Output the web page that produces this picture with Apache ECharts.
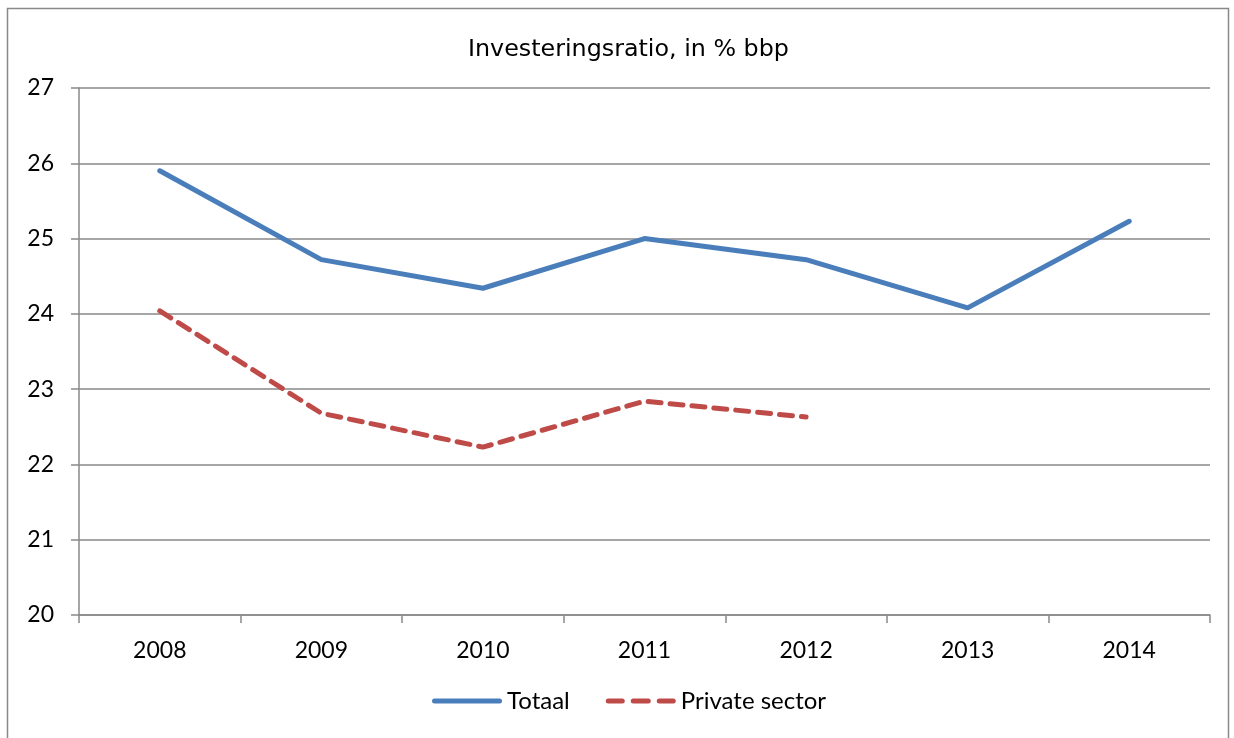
<!DOCTYPE html>
<html>
<head>
<meta charset="utf-8">
<script src="https://cdn.jsdelivr.net/npm/echarts@6/dist/echarts.min.js"></script>
<style>
  html, body { margin: 0; padding: 0; background: #fff; }
  #chart { width: 1234px; height: 738px; }
</style>
</head>
<body>
<div id="chart"></div>
<script>
//--------------------------------
// Data
//--------------------------------
const years = ['2008', '2009', '2010', '2011', '2012', '2013', '2014'];
const totaal = [25.9, 24.72, 24.34, 25.0, 24.72, 24.08, 25.23];
const privateSector = [24.04, 22.68, 22.23, 22.84, 22.63, null, null];
const yTicks = [20, 21, 22, 23, 24, 25, 26, 27];

const labelFont = 'Lato, "Open Sans", sans-serif';
const axisGray = '#898989';

// legend icons: solid bar / three dashes
const solidIcon = 'path://M2.5,0 H67.5 A2.5,2.5 0 0 1 67.5,5 H2.5 A2.5,2.5 0 0 1 2.5,0 Z';
const dashIcon = 'path://M2.5,0 H16.5 A2.5,2.5 0 0 1 16.5,5 H2.5 A2.5,2.5 0 0 1 2.5,0 Z'
    + ' M27.5,0 H42.5 A2.5,2.5 0 0 1 42.5,5 H27.5 A2.5,2.5 0 0 1 27.5,0 Z'
    + ' M53.5,0 H67.5 A2.5,2.5 0 0 1 67.5,5 H53.5 A2.5,2.5 0 0 1 53.5,0 Z';

const myChart = echarts.init(document.getElementById('chart'));

let options = {
    animation: false,
    title: {
        text: 'Investeringsratio, in % bbp',
        left: 463,
        top: 33,
        textStyle: {
            fontFamily: '"DejaVu Sans", Verdana, sans-serif',
            fontWeight: 'normal',
            fontSize: 23.8,
            color: '#000'
        }
    },
    graphic: [{
        type: 'rect',
        shape: { x: 7.5, y: 8.5, width: 1221, height: 740 },
        style: { fill: 'none', stroke: axisGray, lineWidth: 1.5 },
        silent: true
    }],
    legend: {
        bottom: 20,
        left: 427,
        itemWidth: 70,
        itemHeight: 5,
        itemGap: 36,
        textStyle: { fontFamily: labelFont, fontSize: 24, color: '#000' },
        data: [
            { name: 'Totaal', icon: solidIcon },
            { name: 'Private sector', icon: dashIcon }
        ]
    },
    grid: {
        left: 79,
        right: 24,
        top: 88,
        bottom: 123
    },
    xAxis: {
        type: 'category',
        data: years,
        boundaryGap: true,
        axisLine: { lineStyle: { color: axisGray, width: 1.5 } },
        axisTick: { show: true, length: 8, lineStyle: { color: axisGray, width: 1.5 } },
        axisLabel: { fontFamily: labelFont, fontSize: 23, color: '#000', margin: 24 },
        splitLine: { show: false }
    },
    yAxis: {
        type: 'value',
        min: yTicks[0],
        max: yTicks[yTicks.length - 1],
        interval: 1,
        axisLine: { show: true, lineStyle: { color: axisGray, width: 1.5 } },
        axisTick: { show: true, length: 8, lineStyle: { color: axisGray, width: 1.5 } },
        axisLabel: { fontFamily: labelFont, fontSize: 23, color: '#000', margin: 25 },
        splitLine: { lineStyle: { color: axisGray, width: 1.5 } }
    },
    series: [
        {
            name: 'Totaal',
            type: 'line',
            data: totaal,
            symbol: 'none',
            lineStyle: { color: '#4A7EBB', width: 5, cap: 'round', join: 'round' },
            itemStyle: { color: '#4A7EBB' }
        },
        {
            name: 'Private sector',
            type: 'line',
            data: privateSector,
            symbol: 'none',
            lineStyle: { color: '#BE4B48', width: 5, type: [13, 9], cap: 'round', join: 'round' },
            itemStyle: { color: '#BE4B48' }
        }
    ]
};
myChart.setOption(options);
</script>
</body>
</html>
